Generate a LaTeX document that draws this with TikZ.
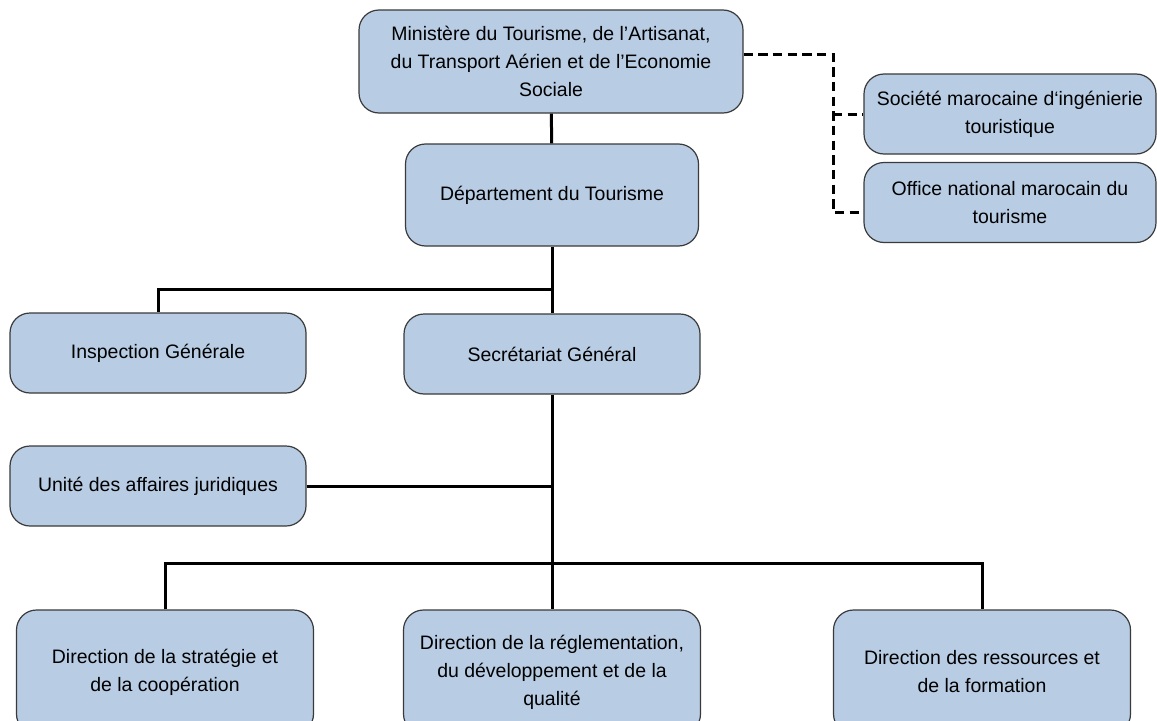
\documentclass[tikz,border=0pt]{standalone}
\usepackage{fontspec}
\setmainfont{Liberation Sans}
\usetikzlibrary{positioning,calc}
\definecolor{boxblue}{HTML}{B8CCE4}
\definecolor{boxline}{HTML}{3A3A3A}

\begin{document}
\begin{tikzpicture}[x=0.75pt,y=-0.75pt,
	box/.style={draw=boxline,line width=0.9pt,fill=boxblue,rounded corners=15pt,align=center,inner sep=0pt,font=\fontsize{14.6}{21}\selectfont},
	unit/.style={box,minimum width=222pt,minimum height=60pt},
	dir/.style={box,minimum width=222.75pt,minimum height=93pt},
	link/.style={line width=2.25pt},
	dashlink/.style={line width=2.25pt,dash pattern=on 7pt off 4pt}]
	\useasboundingbox (0,0) rectangle (1157,721);
	% top of the chart
	\node (min) at (551,61.5) [box,minimum width=288pt,minimum height=77.25pt] {Ministère du Tourisme, de l’Artisanat,\\du Transport Aérien et de l’Economie\\Sociale};
	\node (dep) at (552,195) [box,minimum width=219.75pt,minimum height=76.5pt] {Département du Tourisme};
	\node (smit) at (1010,114) [unit,minimum width=219pt] {Société marocaine d‘ingénierie\\touristique};
	\node (onmt) at (1010,202.5) [unit,minimum width=219pt] {Office national marocain du\\tourisme};
	% middle
	\node (insp) at (158,353) [unit] {Inspection Générale};
	\node (sg) at (552,354) [unit] {Secrétariat Général};
	\node (uaj) at (158,486) [unit] {Unité des affaires juridiques};
	% directions
	\node (dsc) at (165,672) [dir] {Direction de la stratégie et\\de la coopération};
	\node (drdq) at (552,672) [dir] {Direction de la réglementation,\\du développement et de la\\qualité};
	\node (drf) at (982,672) [dir] {Direction des ressources et\\de la formation};
	\coordinate (bus1) at (552,289);
	\coordinate (bus2) at (552,563);
	\coordinate (dtop) at (833,54);
	\draw [link] (min) -- (dep);
	\draw [link] (dep) -- (sg);
	\draw [link] (bus1) -| (insp);
	\draw [link] (sg) -- (drdq);
	\draw [link] (uaj) -- (uaj -| sg);
	\draw [link] (dsc) |- (bus2) -| (drf);
	\draw [dashlink] (min.east |- dtop) -- (dtop) |- (onmt.west |- 0,212);
	\draw [dashlink] (dtop |- smit.west) -- (smit.west);
\end{tikzpicture}
\end{document}
